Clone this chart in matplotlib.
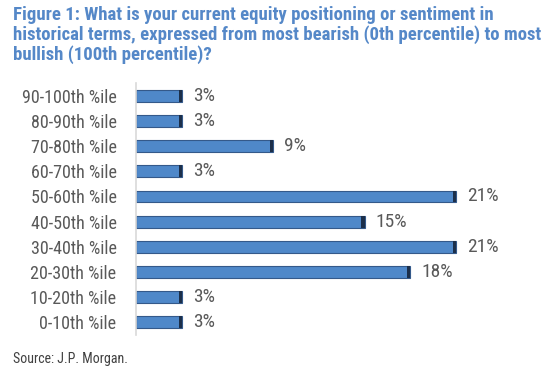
import matplotlib
matplotlib.use("Agg")
import matplotlib.pyplot as plt
from matplotlib import font_manager

categories = ["90-100th %ile", "80-90th %ile", "70-80th %ile", "60-70th %ile",
              "50-60th %ile", "40-50th %ile", "30-40th %ile", "20-30th %ile",
              "10-20th %ile", "0-10th %ile"]
values = [3, 3, 9, 3, 21, 15, 21, 18, 3, 3]
value_labels = ["3%", "3%", "9%", "3%", "21%", "15%", "21%", "18%", "3%", "3%"]

title = ("Figure 1: What is your current equity positioning or sentiment in\n"
         "historical terms, expressed from most bearish (0th percentile) to most\n"
         "bullish (100th percentile)?")
source = "Source: J.P. Morgan."

names = {f.name for f in font_manager.fontManager.ttflist}
fam = [n for n in ["Roboto Condensed", "Archivo Narrow", "PT Sans Narrow"] if n in names]
plt.rcParams['font.family'] = fam + ["Liberation Sans", "DejaVu Sans"]

fig = plt.figure(figsize=(5.52, 3.71), dpi=100)
ax = fig.add_axes([0.2464, 0.097, 0.69, 0.679])

n = len(categories)
ypos = list(range(n - 1, -1, -1))
bar_color = "#4F88C9"
edge = "#34598A"
ax.barh(ypos, values, height=0.47, color=bar_color, edgecolor=edge, linewidth=0.8)
# darker right-end cap for the bevel look
cap = [0.2] * n
ax.barh(ypos, cap, left=[v - 0.2 for v in values], height=0.47,
        color="#1C2F4A", edgecolor="none")

for y, v, lab in zip(ypos, values, value_labels):
    ax.text(v + 0.72, y, lab, va="center", ha="left", fontsize=14, color="#595959")

ax.set_xlim(0, 25)
ax.set_ylim(-0.5, n - 0.5)
ax.set_yticks(ypos)
ax.set_yticklabels(categories, fontsize=13, color="#595959")
ax.tick_params(axis="y", length=0, pad=14)
ax.set_xticks([])
for s in ["top", "right", "bottom"]:
    ax.spines[s].set_visible(False)
ax.spines["left"].set_color("#D9D9D9")
ax.spines["left"].set_linewidth(1.2)

fig.text(0.0236, 0.985, title, ha="left", va="top", fontsize=13.5, fontweight="bold",
         color="#5588C8", linespacing=1.1)
fig.text(0.0236, 0.032, source, ha="left", va="center", fontsize=10, color="#404040")

fig.savefig("out.png", dpi=100)
